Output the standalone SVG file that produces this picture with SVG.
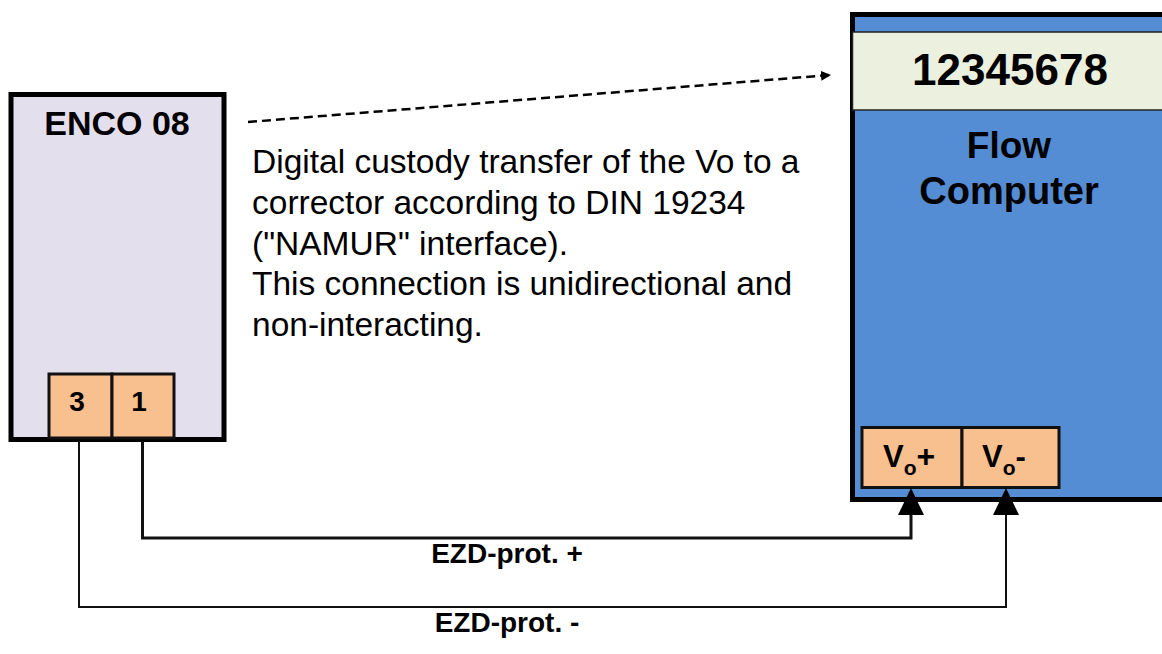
<svg xmlns="http://www.w3.org/2000/svg" width="1162" height="654" viewBox="0 0 1162 654">
<style>
.t{font-family:"Liberation Sans",Arial,sans-serif;fill:#000}
.b{font-weight:bold}
.term{fill:#F9C08F;stroke:#111;stroke-width:3}
.wire{fill:none;stroke:#111;stroke-linejoin:miter}
</style>
<defs>
<marker id="ah" markerWidth="10" markerHeight="10" refX="9" refY="5" orient="auto" markerUnits="userSpaceOnUse" viewBox="0 0 10 10">
<path d="M0,0 L10,5 L0,10 z" fill="#000"/>
</marker>
</defs>
<rect width="1162" height="654" fill="#fff"/>

<g id="enco">
<rect x="11" y="94.5" width="213" height="345" fill="#E4DFEC" stroke="#000" stroke-width="5"/>
<text class="t b" x="117" y="135" font-size="34" text-anchor="middle">ENCO 08</text>
</g>
<g id="enco-term3">
<rect class="term" x="49" y="374" width="63" height="64"/>
<text class="t b" x="77" y="411" font-size="28" text-anchor="middle">3</text>
</g>
<g id="enco-term1">
<rect class="term" x="112" y="374" width="62" height="64"/>
<text class="t b" x="139" y="411" font-size="28" text-anchor="middle">1</text>
</g>

<g id="flow-computer">
<rect x="852.5" y="14.5" width="320" height="485" fill="#548DD4" stroke="#000" stroke-width="5"/>
<rect x="852.5" y="32" width="320" height="78" fill="#EBF1DE" stroke="#222" stroke-width="1.5"/>
<text class="t b" x="1010" y="85" font-size="44" text-anchor="middle">12345678</text>
<text class="t b" x="1009" y="158" font-size="37" text-anchor="middle">Flow</text>
<text class="t b" x="1009" y="204" font-size="38" text-anchor="middle">Computer</text>
</g>
<g id="vo-plus">
<rect class="term" x="862" y="427.5" width="100" height="60"/>
<text class="t b" x="883" y="467" font-size="31">V<tspan font-size="21" dy="7.5">o</tspan><tspan font-size="32" dy="-7.5">+</tspan></text>
</g>
<g id="vo-minus">
<rect class="term" x="962" y="427.5" width="97" height="60"/>
<text class="t b" x="982" y="467" font-size="31">V<tspan font-size="21" dy="7.5">o</tspan><tspan dy="-7.5">-</tspan></text>
</g>

<g id="description">
<text class="t" font-size="33.5">
<tspan x="252" y="173">Digital custody transfer of the Vo to a</tspan>
<tspan x="252" y="214">corrector according to DIN 19234</tspan>
<tspan x="252" y="254.5">("NAMUR" interface).</tspan>
<tspan x="252" y="295">This connection is unidirectional and</tspan>
<tspan x="252" y="335.5">non-interacting.</tspan>
</text>
</g>

<g id="connectors">
<line x1="248" y1="122" x2="830" y2="75" stroke="#000" stroke-width="2.5" stroke-dasharray="9 5" marker-end="url(#ah)"/>
<polyline class="wire" stroke-width="3" points="142.5,441 142.5,538 911,538 911,512"/>
<path d="M911,488 L924,515 L898,515 z" fill="#000"/>
<polyline class="wire" stroke-width="2" points="79,441 79,607 1006,607 1006,512"/>
<path d="M1006,488 L1019,515 L993,515 z" fill="#000"/>
<text class="t b" x="507" y="563" font-size="28" text-anchor="middle">EZD-prot. +</text>
<text class="t b" x="507" y="632" font-size="28" text-anchor="middle">EZD-prot. -</text>
</g>
</svg>
